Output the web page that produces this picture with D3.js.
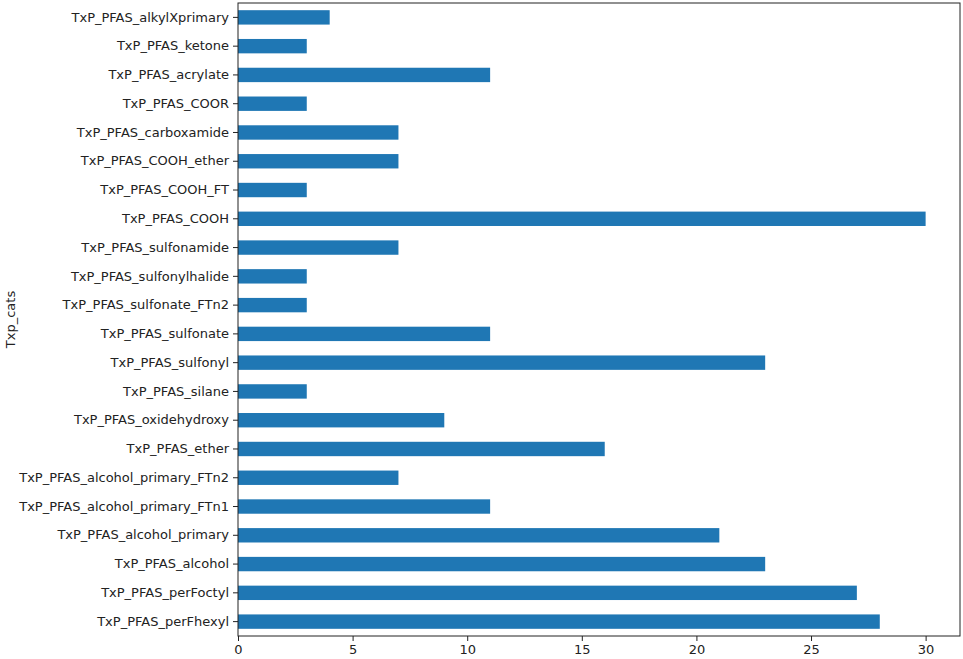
<!DOCTYPE html>
<html>
<head>
<meta charset="utf-8">
<script src="https://cdn.jsdelivr.net/npm/d3@7"></script>
<style>
  body { margin: 0; background: #fff; }
  svg { display: block; }
</style>
</head>
<body>
<svg width="963" height="659"></svg>
<script>
// categories listed top to bottom
var cats = [
  'TxP_PFAS_alkylXprimary', 'TxP_PFAS_ketone', 'TxP_PFAS_acrylate', 'TxP_PFAS_COOR',
  'TxP_PFAS_carboxamide', 'TxP_PFAS_COOH_ether', 'TxP_PFAS_COOH_FT', 'TxP_PFAS_COOH',
  'TxP_PFAS_sulfonamide', 'TxP_PFAS_sulfonylhalide', 'TxP_PFAS_sulfonate_FTn2',
  'TxP_PFAS_sulfonate', 'TxP_PFAS_sulfonyl', 'TxP_PFAS_silane', 'TxP_PFAS_oxidehydroxy',
  'TxP_PFAS_ether', 'TxP_PFAS_alcohol_primary_FTn2', 'TxP_PFAS_alcohol_primary_FTn1',
  'TxP_PFAS_alcohol_primary', 'TxP_PFAS_alcohol', 'TxP_PFAS_perFoctyl', 'TxP_PFAS_perFhexyl'
];
var counts = [4, 3, 11, 3, 7, 7, 3, 30, 7, 3, 3, 11, 23, 3, 9, 16, 7, 11, 21, 23, 27, 28];
var xTicks = [0, 5, 10, 15, 20, 25, 30];
var yLabel = 'Txp_cats';

var font = '"DejaVu Sans", sans-serif';
var svg = d3.select('svg');
var margin = {top: 3, left: 238, right: 3, bottom: 23};
var w = 963, h = 659;
var width = w - margin.left - margin.right;
var height = h - margin.top - margin.bottom;

var g = svg.append('g')
  .attr('transform', 'translate(' + [margin.left, margin.top] + ')');

var x = d3.scaleLinear().domain([0, d3.max(counts) * 1.05]).range([0, width]);
var y = d3.scaleBand().domain(cats).range([0, height]).paddingInner(0.5).paddingOuter(0.25);

g.selectAll('rect.bar')
  .data(cats)
  .enter()
  .append('rect')
  .attr('class', 'bar')
  .attr('x', x(0))
  .attr('y', function (d) { return y(d); })
  .attr('width', function (d, i) { return x(counts[i]) - x(0); })
  .attr('height', y.bandwidth())
  .style('fill', '#1f77b4');

var xAxis = g.append('g')
  .attr('transform', 'translate(0,' + height + ')')
  .call(d3.axisBottom(x).tickValues(xTicks).tickSize(5).tickPadding(4));

var yAxis = g.append('g')
  .call(d3.axisLeft(y).tickSize(5).tickPadding(4));

[xAxis, yAxis].forEach(function (a) {
  a.attr('font-family', null).attr('font-size', null);
  a.select('.domain').remove();
  a.selectAll('text')
    .style('font-family', font)
    .style('font-size', '13px')
    .style('fill', '#222');
  a.selectAll('line').style('stroke', '#222');
});

// frame
g.append('rect')
  .attr('width', width)
  .attr('height', height)
  .style('fill', 'none')
  .style('stroke', '#222')
  .style('stroke-width', '1px');

svg.append('text')
  .attr('transform', 'translate(15,' + (margin.top + height / 2) + ') rotate(-90)')
  .attr('text-anchor', 'middle')
  .style('font-family', font)
  .style('font-size', '13px')
  .style('fill', '#222')
  .text(yLabel);
</script>
</body>
</html>
